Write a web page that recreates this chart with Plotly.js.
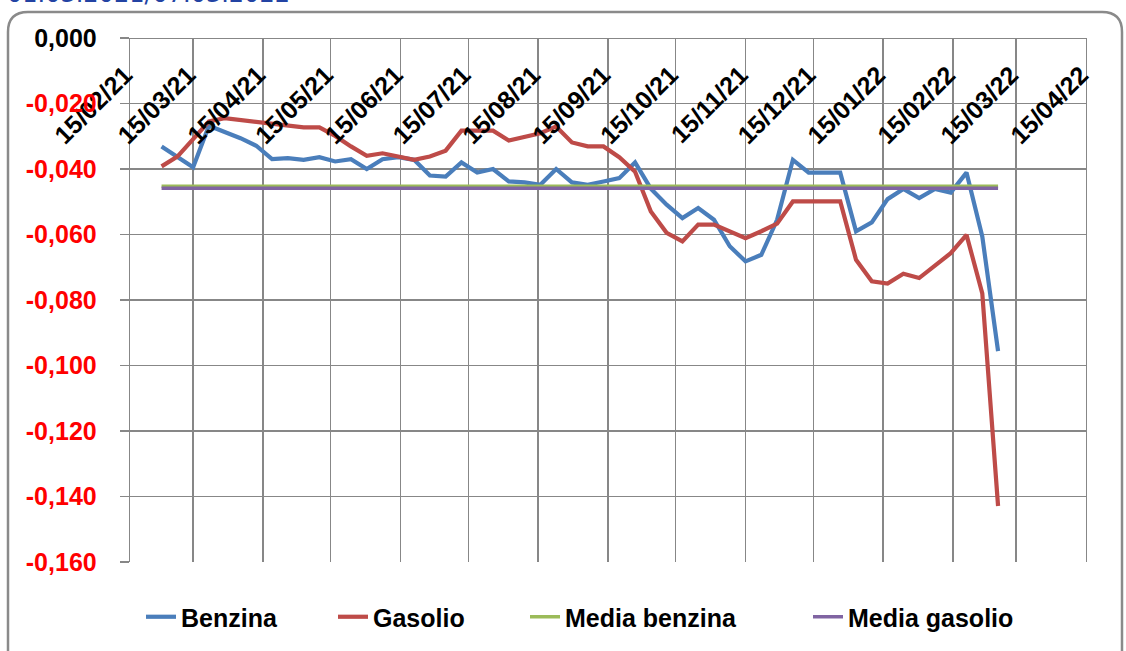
<!DOCTYPE html>
<html><head><meta charset="utf-8">
<script src="https://cdn.plot.ly/plotly-3.0.1.min.js"></script>
<style>html,body{margin:0;padding:0;background:#fff;}#chart{width:1126px;height:651px;}</style>
</head><body><div id="chart"></div>
<script>
const dates = ['2021-03-01','2021-03-08','2021-03-15','2021-03-22','2021-03-29','2021-04-05','2021-04-12','2021-04-19','2021-04-26',
'2021-05-03','2021-05-10','2021-05-17','2021-05-24','2021-05-31','2021-06-07','2021-06-14','2021-06-21','2021-06-28',
'2021-07-05','2021-07-12','2021-07-19','2021-07-26','2021-08-02','2021-08-09','2021-08-16','2021-08-23','2021-08-30',
'2021-09-06','2021-09-13','2021-09-20','2021-09-27','2021-10-04','2021-10-11','2021-10-18','2021-10-25',
'2021-11-01','2021-11-08','2021-11-15','2021-11-22','2021-11-29','2021-12-06','2021-12-13','2021-12-20','2021-12-27',
'2022-01-03','2022-01-10','2022-01-17','2022-01-24','2022-01-31','2022-02-07','2022-02-14','2022-02-21','2022-02-28','2022-03-07'];
const benzina = [-0.0331,-0.0364,-0.0395,-0.0268,-0.0286,-0.0306,-0.0329,-0.0370,-0.0367,
-0.0372,-0.0364,-0.0377,-0.0370,-0.0400,-0.0370,-0.0364,-0.0372,-0.0420,
-0.0423,-0.0380,-0.0411,-0.0400,-0.0438,-0.0441,-0.0448,-0.0400,-0.0441,
-0.0448,-0.0438,-0.0428,-0.0380,-0.0460,-0.0509,-0.0550,-0.0519,
-0.0555,-0.0636,-0.0682,-0.0662,-0.0555,-0.0372,-0.0411,-0.0411,-0.0411,
-0.0590,-0.0563,-0.0492,-0.0461,-0.0489,-0.0461,-0.0472,-0.0411,-0.0606,-0.0956];
const gasolio = [-0.0392,-0.0362,-0.0309,-0.0255,-0.0245,-0.0250,-0.0255,-0.0260,-0.0265,
-0.0273,-0.0273,-0.0299,-0.0331,-0.0360,-0.0352,-0.0362,-0.0372,-0.0362,
-0.0344,-0.0283,-0.0283,-0.0283,-0.0313,-0.0301,-0.0291,-0.0270,-0.0319,
-0.0331,-0.0331,-0.0364,-0.0408,-0.0530,-0.0595,-0.0621,-0.0570,
-0.0570,-0.0590,-0.0611,-0.0590,-0.0567,-0.0499,-0.0499,-0.0499,-0.0499,
-0.0677,-0.0743,-0.0750,-0.0720,-0.0733,-0.0697,-0.0657,-0.0601,-0.0780,-0.1429];
const mediaBenzina = -0.0453;
const mediaGasolio = -0.0459;
const seriesNames = ['Benzina','Gasolio','Media benzina','Media gasolio'];
const yTickVals = [0,-0.02,-0.04,-0.06,-0.08,-0.10,-0.12,-0.14,-0.16];
const yTickText = ['<span style="color:#000000">0,000</span>','-0,020','-0,040','-0,060','-0,080','-0,100','-0,120','-0,140','-0,160'];
const titleText = '01.03.2021/07.03.2022';

const L=130,R=1086,T=38,B=563;
function px(x){return (x-L)/(R-L);}
function py(y){return (B-y)/(B-T);}
const grid = '#878787';
const FONT = 'Liberation Sans, Arial, sans-serif';

const first = dates[0], last = dates[dates.length-1];
const traces = [
 {x:dates,y:benzina,name:seriesNames[0],mode:'lines',line:{color:'#4A7EBB',width:4.2},legend:'legend'},
 {x:dates,y:gasolio,name:seriesNames[1],mode:'lines',line:{color:'#BE4B48',width:4.2},legend:'legend2'},
 {x:[first,last],y:[mediaBenzina,mediaBenzina],name:seriesNames[2],mode:'lines',line:{color:'#9BBB59',width:3.5},legend:'legend3'},
 {x:[first,last],y:[mediaGasolio,mediaGasolio],name:seriesNames[3],mode:'lines',line:{color:'#8064A2',width:3.5},legend:'legend4'}
];
function lg(textX){return {orientation:'h',x:px(textX-42),xanchor:'left',y:py(617),yanchor:'middle',
  font:{family:FONT,size:25,color:'#000',weight:'bold'},bgcolor:'rgba(0,0,0,0)',borderwidth:0};}
const bx0=8,by0=12,bx1=1122,by1=700,r=20;
const path = `M${px(bx0)},${py(by1)} L${px(bx0)},${py(by0+r)} Q${px(bx0)},${py(by0)} ${px(bx0+r)},${py(by0)} L${px(bx1-r)},${py(by0)} Q${px(bx1)},${py(by0)} ${px(bx1)},${py(by0+r)} L${px(bx1)},${py(by1)}`;
const layout = {
 width:1126,height:651,margin:{l:L,r:1126-R,t:T,b:651-B},
 paper_bgcolor:'#fff',plot_bgcolor:'#fff',showlegend:true,
 font:{family:FONT,weight:'bold'},
 xaxis:{type:'date',range:['2021-02-15','2022-04-15'],tick0:'2021-02-15',dtick:'M1',tickformat:'%d/%m/%y',
   tickangle:-45,anchor:'free',position:1,side:'bottom',showgrid:true,gridcolor:grid,gridwidth:1.3,
   showline:true,linecolor:grid,linewidth:1.3,mirror:true,ticks:'',zeroline:false,
   ticklabelstandoff:11,ticklabelshift:-5,
   tickfont:{family:FONT,size:25,color:'#000',weight:'bold'}},
 yaxis:{range:[-0.16,0],tickvals:yTickVals,ticktext:yTickText,showgrid:true,gridcolor:grid,gridwidth:1.3,
   showline:true,linecolor:grid,linewidth:1.3,mirror:true,ticks:'outside',ticklen:9,tickcolor:grid,tickwidth:1.3,
   zeroline:false,ticklabelstandoff:18,tickfont:{family:FONT,size:25,color:'#FF0000',weight:'bold'}},
 legend:lg(183),legend2:lg(375),legend3:lg(567),legend4:lg(850),
 shapes:[{type:'path',xref:'paper',yref:'paper',path:path,line:{color:'#8a8a8a',width:2.5},layer:'below'}],
 annotations:[{text:titleText,xref:'paper',yref:'paper',x:px(5),y:py(10),xanchor:'left',yanchor:'bottom',showarrow:false,
   font:{family:'DejaVu Sans, sans-serif',size:24,color:'#2343A3',weight:'normal'}}]
};
Plotly.newPlot('chart',traces,layout,{displayModeBar:false,staticPlot:true});
</script></body></html>
